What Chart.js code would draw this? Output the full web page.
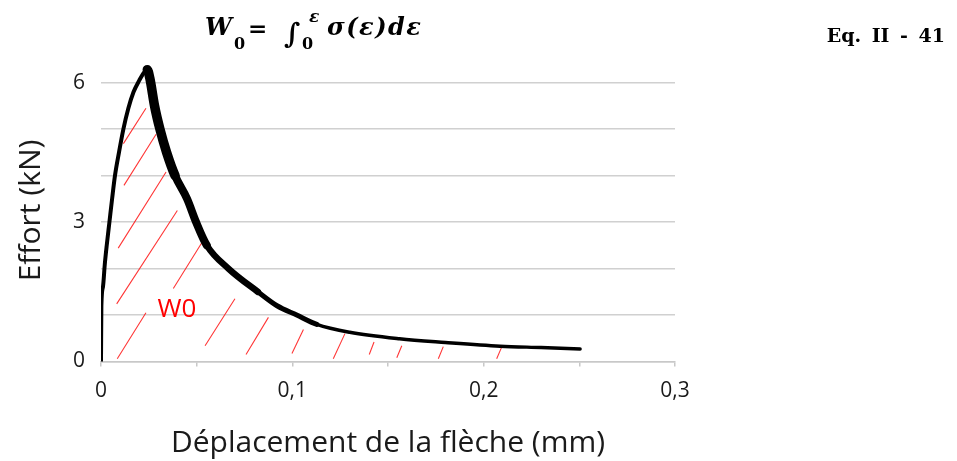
<!DOCTYPE html>
<html>
<head>
<meta charset="utf-8">
<script src="https://cdn.jsdelivr.net/npm/chart.js@4.4.1/dist/chart.umd.min.js"></script>
<style>
    body { margin: 0; background: #fff; }
    #wrap { position: relative; width: 957px; height: 461px; }
    .eq { position: absolute; line-height: 1; font-family: "DejaVu Serif"; font-weight: bold; color: #000; white-space: nowrap; }
    .it { font-style: italic; }
</style>
</head>
<body>
<div id="wrap">
    <canvas id="chart-effort"></canvas>
    <span class="eq it" style="left:205px; top:15px; font-size:24px">W</span>
    <span class="eq" style="left:234px; top:36px; font-size:16px">0</span>
    <span class="eq" style="left:248px; top:16px; font-size:23px">=</span>
    <span class="eq" style="left:284px; top:20px; font-size:28px">∫</span>
    <span class="eq it" style="left:309px; top:8px; font-size:17px">ε</span>
    <span class="eq" style="left:302px; top:36px; font-size:16px">0</span>
    <span class="eq it" style="left:327px; top:15px; font-size:24px; letter-spacing:1.5px">σ(ε)dε</span>
    <span class="eq" style="right:12px; top:26px; font-size:19px; word-spacing:4px">Eq. II - 41</span>
</div>
<script>
// courbe effort / flèche
const curveX = [0, 0.0002, 0.001, 0.002, 0.003, 0.0044, 0.0058, 0.0073, 0.0094, 0.0117,
    0.0143, 0.017, 0.020, 0.0225, 0.0242, 0.0255, 0.028, 0.0308, 0.0343, 0.0387,
    0.045, 0.0497, 0.0553, 0.0666, 0.082, 0.092, 0.1023, 0.1128, 0.130, 0.156,
    0.18, 0.2086, 0.23, 0.2504]
const curveY = [0, 1.2, 1.6, 2.1, 2.5, 3.0, 3.5, 4.0, 4.5, 5.0,
    5.45, 5.8, 6.05, 6.22, 6.28, 6.1, 5.5, 5.0, 4.5, 4.0,
    3.5, 3.0, 2.5, 2.0, 1.5, 1.2, 1.0, 0.8, 0.63, 0.49,
    0.41, 0.33, 0.3, 0.27]

// hachures W0 (début / fin de chaque trait)
const hatchX0 = [0.0117, 0.0120, 0.0090, 0.0082, 0.0378, 0.0085, 0.0544, 0.0758, 0.0998, 0.1214, 0.1402, 0.1546, 0.1763, 0.2068]
const hatchY0 = [4.69, 3.79, 2.44, 1.24, 1.57, 0.06, 0.34, 0.15, 0.17, 0.06, 0.15, 0.08, 0.06, 0.06]
const hatchX1 = [0.0235, 0.0288, 0.0340, 0.0399, 0.0526, 0.0235, 0.0700, 0.0875, 0.1058, 0.1275, 0.1427, 0.1572, 0.1789, 0.2094]
const hatchY1 = [5.45, 4.89, 4.08, 3.25, 2.55, 1.05, 1.35, 0.95, 0.69, 0.60, 0.42, 0.34, 0.32, 0.31]

const xLabelled = [0, 0.1, 0.2, 0.3]
const yLabelled = [0, 3, 6]
const w0Label = "W0"
const w0At = [0.0397, 1.11]

const peakIndex = curveY.indexOf(Math.max(...curveY))

const curvePoints = curveX.map((x, i) => ({ x: x, y: curveY[i] }))
const hatchPoints = []
hatchX0.forEach((x, i) => {
    hatchPoints.push({ x: x, y: hatchY0[i] })
    hatchPoints.push({ x: hatchX1[i], y: hatchY1[i] })
    hatchPoints.push({ x: hatchX1[i], y: null })
})

// épaisseur de la bande après le pic
const bandWidth = (ctx) => {
    if (ctx.p0DataIndex < peakIndex) return 4
    const x = ctx.p0.parsed.x
    if (x < 0.035) return 9.5
    if (x < 0.05) return 8
    if (x < 0.075) return 6.5
    if (x < 0.11) return 5
    return 3.5
}

const labelW0 = {
    id: "labelW0",
    afterDatasetsDraw(chart) {
        const { ctx, scales } = chart
        ctx.save()
        ctx.fillStyle = "#ff0000"
        ctx.font = "26px 'Open Sans'"
        ctx.textAlign = "center"
        ctx.textBaseline = "middle"
        ctx.fillText(w0Label, scales.x.getPixelForValue(w0At[0]), scales.y.getPixelForValue(w0At[1]))
        ctx.restore()
    }
}

const isLabelled = (list, v) => list.some((t) => Math.abs(t - v) < 1e-6)

new Chart(document.getElementById("chart-effort"), {
    type: "line",
    data: {
        datasets: [{
            label: "Effort",
            data: curvePoints,
            borderColor: "#000",
            borderWidth: 4,
            borderJoinStyle: "round",
            borderCapStyle: "round",
            pointRadius: 0,
            cubicInterpolationMode: "monotone",
            segment: { borderWidth: bandWidth }
        }, {
            label: "W0",
            data: hatchPoints,
            borderColor: "rgba(255, 20, 20, 0.85)",
            borderWidth: 1.1,
            pointRadius: 0,
            spanGaps: false,
            tension: 0
        }]
    },
    options: {
        responsive: true,
        maintainAspectRatio: false,
        animation: false,
        layout: { padding: { top: 59.5, right: 282, bottom: 0, left: 0 } },
        plugins: {
            legend: { display: false },
            tooltip: { enabled: false }
        },
        scales: {
            x: {
                type: "linear",
                min: 0,
                max: 0.3,
                afterFit: (s) => { s.height = 99.5 },
                grid: { drawOnChartArea: false, drawTicks: true, tickLength: 5, color: "#c8c8c8", lineWidth: 1.5 },
                border: { display: true, color: "#c8c8c8", width: 1.5 },
                ticks: {
                    stepSize: 0.05,
                    autoSkip: false,
                    maxRotation: 0,
                    padding: 12,
                    color: "#1a1a1a",
                    font: { family: "'Open Sans'", size: 21 },
                    callback: (v) => isLabelled(xLabelled, v) ? (v === 0 ? "0" : v.toFixed(1).replace(".", ",")) : ""
                },
                title: {
                    display: true,
                    text: "Déplacement de la flèche (mm)",
                    color: "#1a1a1a",
                    font: { family: "'Open Sans'", size: 30 },
                    padding: { top: 0, bottom: 0 }
                }
            },
            y: {
                min: 0,
                max: 6.5,
                afterFit: (s) => { s.width = 101 },
                grid: { color: "#d0d0d0", lineWidth: 1.5, drawTicks: false },
                border: { display: false },
                ticks: {
                    stepSize: 1,
                    includeBounds: false,
                    padding: 16,
                    color: "#1a1a1a",
                    font: { family: "'Open Sans'", size: 21 },
                    callback: (v) => isLabelled(yLabelled, v) ? String(v) : ""
                },
                title: {
                    display: true,
                    text: "Effort (kN)",
                    color: "#1a1a1a",
                    font: { family: "'Open Sans'", size: 30 },
                    padding: { top: 13, bottom: 0 }
                }
            }
        }
    },
    plugins: [labelW0]
})
</script>
</body>
</html>
